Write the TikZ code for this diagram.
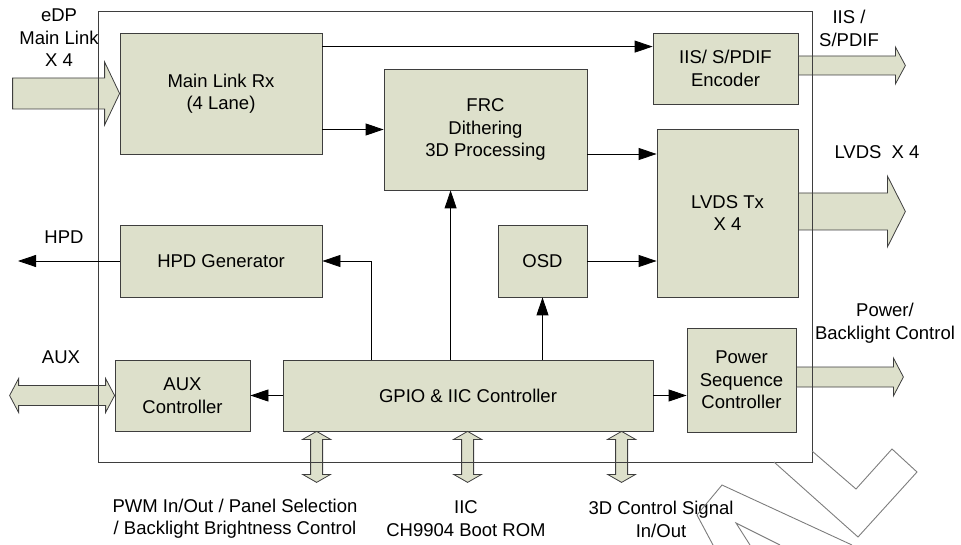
\documentclass[tikz,border=0pt]{standalone}
\usepackage{fontspec}
\setmainfont{Liberation Sans}
\usepackage{tikz}
\usetikzlibrary{arrows.meta, positioning, calc}

\definecolor{blkfill}{RGB}{221,224,203}
\definecolor{blkline}{RGB}{62,62,62}
\definecolor{wmark}{RGB}{125,125,125}

\begin{document}
\begin{tikzpicture}[
    x=1pt, y=-1pt,
    every node/.style={font=\fontsize{18.5}{22.5}\selectfont, align=center}, % 统一字体
    blk/.style={draw=blkline, fill=blkfill, line width=0.8pt, inner sep=0pt}, % 功能块
    link/.style={black, line width=0.8pt, -{Triangle[length=18pt, width=12pt]}}, % 信号箭头
    bus/.style={draw=blkline, fill=blkfill, line width=0.8pt}, % 粗总线箭头
    chip/.style={draw=blkline, line width=0.9pt}, % 芯片外框
    wm/.style={wmark, line width=0.9pt} % 水印线
]
    \useasboundingbox (0,0) rectangle (961,545);

    % 1. 功能块
    \node[blk, minimum width=202, minimum height=121] (rx)   at (221,93.5)   {Main Link Rx\\(4 Lane)};
    \node[blk, minimum width=203, minimum height=121] (frc)  at (485.5,129.5) {FRC\\Dithering\\3D Processing};
    \node[blk, minimum width=145, minimum height=71]  (enc)  at (725.5,68.5)  {IIS/ S/PDIF\\Encoder};
    \node[blk, minimum width=141, minimum height=168] (lvds) at (727.5,213)   {LVDS Tx\\X 4};
    \node[blk, minimum width=89,  minimum height=72]  (osd)  at (542.5,261)   {OSD};
    \node[blk, minimum width=202, minimum height=72]  (hpd)  at (221,261)     {HPD Generator};
    \node[blk, minimum width=135, minimum height=71]  (aux)  at (182.5,395.5) {AUX\\Controller};
    \node[blk, minimum width=370, minimum height=71]  (gpio) at (468,395.5)   {GPIO \& IIC Controller};
    \node[blk, minimum width=109, minimum height=104] (pwr)  at (741.5,380)   {Power\\Sequence\\Controller};

    % 2. 粗总线箭头
    \draw[bus] (rx.west) -- ++(-15,-31.5) -- ++(0,16) -- ++(-92,0) -- ++(0,31)
        -- ++(92,0) -- ++(0,16) -- cycle;
    \draw[bus] ($(enc.east)+(0,-12.5)$) -- ++(97,0) -- ++(0,-9) -- ++(10,18.5)
        -- ++(-10,18.5) -- ++(0,-9) -- ++(-97,0) -- cycle;
    \draw[bus] ($(lvds.east)+(0,-20)$) -- ++(89,0) -- ++(0,-17) -- ++(18,35.5)
        -- ++(-18,35.5) -- ++(0,-17) -- ++(-89,0) -- cycle;
    \draw[bus] ($(pwr.east)+(0,-13)$) -- ++(97,0) -- ++(0,-9) -- ++(10,19)
        -- ++(-10,19) -- ++(0,-9) -- ++(-97,0) -- cycle;
    \draw[bus] (aux.west) -- ++(-9,-17) -- ++(0,7) -- ++(-87,0) -- ++(0,-7)
        -- ++(-9,17) -- ++(9,17) -- ++(0,-7) -- ++(87,0) -- ++(0,7) -- cycle;
    \foreach \dx in {34,185,339} {
        \draw[bus] ($(gpio.south west)+(\dx,0)$) -- ++(14,8) -- ++(-8,0) -- ++(0,35)
            -- ++(8,0) -- ++(-14,8) -- ++(-14,-8) -- ++(8,0) -- ++(0,-35) -- ++(-8,0) -- cycle;
    }

    % 3. 芯片外框
    \draw[chip] (98,11) rectangle (812,462);

    % 4. 信号连线
    \coordinate (hpdout) at (18,261);
    \draw[link] ($(rx.north east)+(0,14)$) -- ($(enc.north west)+(0,14)$);
    \draw[link] (rx.east |- frc.west) -- (frc.west);
    \draw[link] ($(frc.east)+(0,24.5)$) coordinate (a) -- (a -| lvds.west);
    \draw[link] (osd.east) -- (osd.east -| lvds.west);
    \draw[link] (hpd.west) -- (hpdout);
    \draw[link] ($(gpio.north west)+(89,0)$) |- (hpd.east);
    \draw[link] ($(gpio.north west)+(168,0)$) coordinate (b) -- (b |- frc.south);
    \draw[link] (osd.south |- gpio.north) -- (osd.south);
    \draw[link] (gpio.west) -- (aux.east);
    \draw[link] (gpio.east) -- (gpio.east -| pwr.west);

    % 5. 外部信号标注
    \node (edplbl)  at (59,38)      {eDP\\Main Link\\X 4};
    \node (hpdlbl)  at (64,237)     {HPD};
    \node (auxlbl)  at (61,357)     {AUX};
    \node (iislbl)  at (849,28.5)   {IIS /\\S/PDIF};
    \node (lvdslbl) at (877,152)    {LVDS\ \ X 4};
    \node (pwrlbl)  at (885,323)    {Power/\\Backlight Control};
    \node (pwmlbl)  at (235,518.5)  {PWM In/Out / Panel Selection\\/ Backlight Brightness Control};
    \node (iiclbl)  at (466,518.5)  {IIC\\CH9904 Boot ROM};
    \node (ctllbl)  at (661,519.5)  {3D Control Signal\\In/Out};

    % 6. 水印
    \draw[wm] (774,462) -- (858,537) -- (917,472) -- (892,449) -- (856,489) -- (812,451);
    \draw[wm] (713,545) -- (697,515) -- (722,485) -- (852,545);
    \draw[wm] (750,545) -- (736,523) -- (780,545);
\end{tikzpicture}
\end{document}
